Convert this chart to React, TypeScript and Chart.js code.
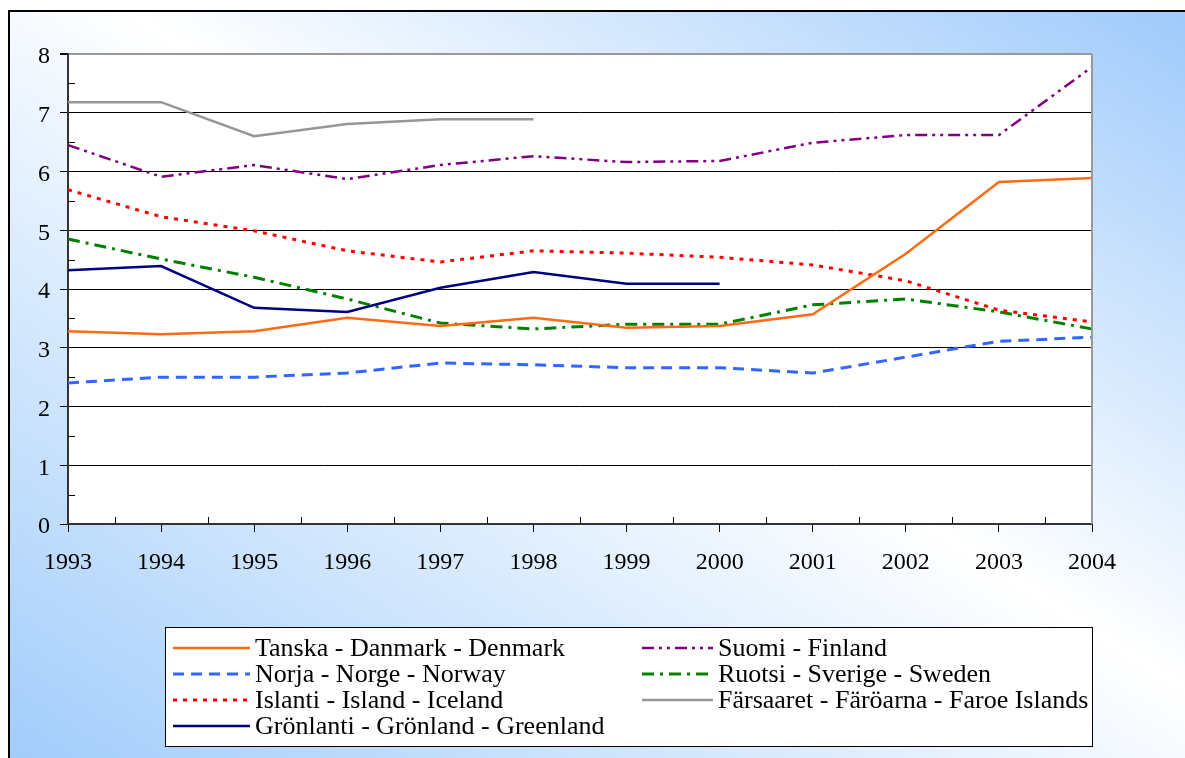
import React, { useEffect, useRef } from "react";
import { Chart, registerables } from "chart.js";

Chart.register(...registerables);

const years = ["1993", "1994", "1995", "1996", "1997", "1998", "1999", "2000", "2001", "2002", "2003", "2004"];
const yTicks = [0, 1, 2, 3, 4, 5, 6, 7, 8];

const denmark = [3.28, 3.23, 3.28, 3.51, 3.37, 3.51, 3.34, 3.37, 3.57, 4.6, 5.82, 5.89];
const norway = [2.4, 2.5, 2.5, 2.57, 2.74, 2.71, 2.66, 2.66, 2.57, 2.84, 3.11, 3.18];
const iceland = [5.69, 5.23, 4.99, 4.65, 4.46, 4.65, 4.61, 4.54, 4.41, 4.14, 3.64, 3.44];
const greenland = [4.32, 4.39, 3.68, 3.61, 4.02, 4.29, 4.09, 4.09, null, null, null, null];
const finland = [6.45, 5.91, 6.11, 5.87, 6.11, 6.26, 6.16, 6.18, 6.49, 6.62, 6.62, 7.78];
const sweden = [4.85, 4.51, 4.2, 3.83, 3.42, 3.32, 3.4, 3.4, 3.73, 3.83, 3.61, 3.32];
const faroe = [7.18, 7.18, 6.6, 6.81, 6.89, 6.89, null, null, null, null, null, null];

const labels = [
  "Tanska - Danmark - Denmark",
  "Norja - Norge - Norway",
  "Islanti - Island - Iceland",
  "Grönlanti - Grönland - Greenland",
  "Suomi - Finland",
  "Ruotsi - Sverige - Sweden",
  "Färsaaret - Färöarna - Faroe Islands",
];

const FONT = "'Liberation Serif', 'Times New Roman', serif";

const styles = [
  { color: "#ff6a13", width: 2.5, dash: [] as number[] },
  { color: "#3366ff", width: 3, dash: [11, 7] },
  { color: "#ff0000", width: 3, dash: [4, 6] },
  { color: "#000080", width: 2.5, dash: [] as number[] },
  { color: "#800080", width: 2.5, dash: [12, 5, 3, 5, 3, 5] },
  { color: "#008000", width: 3, dash: [12, 6, 3, 6] },
  { color: "#969696", width: 2.5, dash: [] as number[] },
];

const seriesData = [denmark, norway, iceland, greenland, finland, sweden, faroe];

const decorPlugin = {
  id: "decor",
  beforeDraw(chart: any) {
    const { ctx, chartArea } = chart;
    ctx.save();
    ctx.fillStyle = "#ffffff";
    ctx.fillRect(chartArea.left, chartArea.top, chartArea.right - chartArea.left, chartArea.bottom - chartArea.top);
    ctx.restore();
  },
  afterDraw(chart: any) {
    const { ctx, chartArea, scales } = chart;
    const x = scales.x;
    const y = scales.y;
    ctx.save();
    // right border
    ctx.strokeStyle = "#999999";
    ctx.lineWidth = 2;
    ctx.beginPath();
    ctx.moveTo(chartArea.right, chartArea.top);
    ctx.lineTo(chartArea.right, chartArea.bottom);
    ctx.stroke();
    // minor ticks
    ctx.strokeStyle = "#000";
    ctx.lineWidth = 1;
    for (let v = 0.5; v < 8; v += 1) {
      const py = Math.round(y.getPixelForValue(v)) + 0.5;
      ctx.beginPath();
      ctx.moveTo(chartArea.left, py);
      ctx.lineTo(chartArea.left + 7, py);
      ctx.stroke();
    }
    for (let i = 0; i < years.length - 1; i++) {
      const px = Math.round((x.getPixelForValue(i) + x.getPixelForValue(i + 1)) / 2) + 0.5;
      ctx.beginPath();
      ctx.moveTo(px, chartArea.bottom);
      ctx.lineTo(px, chartArea.bottom - 7);
      ctx.stroke();
    }
    // legend
    const bx = 165.5, by = 627.5, bw = 927, bh = 119;
    ctx.fillStyle = "#ffffff";
    ctx.fillRect(bx, by, bw, bh);
    ctx.strokeStyle = "#000";
    ctx.lineWidth = 1;
    ctx.strokeRect(bx, by, bw, bh);
    const rows = [648, 674, 700, 726];
    const cols = [
      { s0: 173, s1: 250, t: 255 },
      { s0: 642, s1: 713, t: 718 },
    ];
    ctx.font = "26px " + FONT;
    ctx.textBaseline = "middle";
    ctx.textAlign = "left";
    labels.forEach((lab, i) => {
      const col = i < 4 ? cols[0] : cols[1];
      const ry = i < 4 ? rows[i] : rows[i - 4];
      const st = styles[i];
      ctx.strokeStyle = st.color;
      ctx.lineWidth = st.width;
      ctx.setLineDash(st.dash);
      ctx.beginPath();
      ctx.moveTo(col.s0, ry);
      ctx.lineTo(col.s1, ry);
      ctx.stroke();
      ctx.setLineDash([]);
      ctx.fillStyle = "#000";
      ctx.fillText(lab, col.t, ry + 1);
    });
    ctx.restore();
  },
};

export default function App() {
  const ref = useRef<HTMLCanvasElement | null>(null);
  useEffect(() => {
    if (!ref.current) return;
    const chart = new Chart(ref.current, {
      type: "line",
      data: {
        labels: years,
        datasets: seriesData.map((d, i) => ({
          label: labels[i],
          data: d,
          borderColor: styles[i].color,
          backgroundColor: styles[i].color,
          borderWidth: styles[i].width,
          borderDash: styles[i].dash,
          pointRadius: 0,
          tension: 0,
          fill: false,
          spanGaps: false,
        })),
      },
      options: {
        animation: false,
        responsive: false,
        devicePixelRatio: 1,
        layout: { padding: { top: 54, right: 93, left: 0, bottom: 0 } },
        plugins: { legend: { display: false }, tooltip: { enabled: false } },
        scales: {
          x: {
            type: "category",
            offset: false,
            afterFit: (s: any) => { s.height = 234; },
            grid: { drawOnChartArea: false, drawTicks: true, tickLength: 8, color: "#000" },
            border: { display: true, color: "#333", width: 2 },
            ticks: { autoSkip: false, maxRotation: 0, padding: 16, color: "#000", font: { family: FONT, size: 24 } },
          },
          y: {
            min: 0,
            max: 8,
            afterFit: (s: any) => { s.width = 68; },
            afterBuildTicks: (s: any) => { s.ticks = yTicks.map((v) => ({ value: v })); },
            grid: {
              color: (c: any) => (c.tick && c.tick.value === 8 ? "#999999" : "#000000"),
              lineWidth: (c: any) => (c.tick && c.tick.value === 8 ? 2 : 1),
              tickColor: "#000",
              tickLength: 8,
            },
            border: { display: true, color: "#333", width: 2 },
            ticks: { padding: 10, labelOffset: 3, color: "#000", font: { family: FONT, size: 24 } },
          },
        },
      },
      plugins: [decorPlugin],
    } as any);
    return () => chart.destroy();
  }, []);
  return (
    <div style={{ position: "absolute", left: 0, top: 0, width: 1185, height: 758, overflow: "hidden", background: "#fff" }}>
      <div
        style={{
          position: "absolute",
          left: 8,
          top: 10,
          width: 1200,
          height: 770,
          borderLeft: "2px solid #000",
          borderTop: "2px solid #000",
          background: "linear-gradient(to top right, #9fcbfb 0%, #ffffff 55%, #9dc9fb 100%)",
        }}
      />
      <canvas ref={ref} width={1185} height={758} style={{ position: "absolute", left: 0, top: 0 }} />
    </div>
  );
}
